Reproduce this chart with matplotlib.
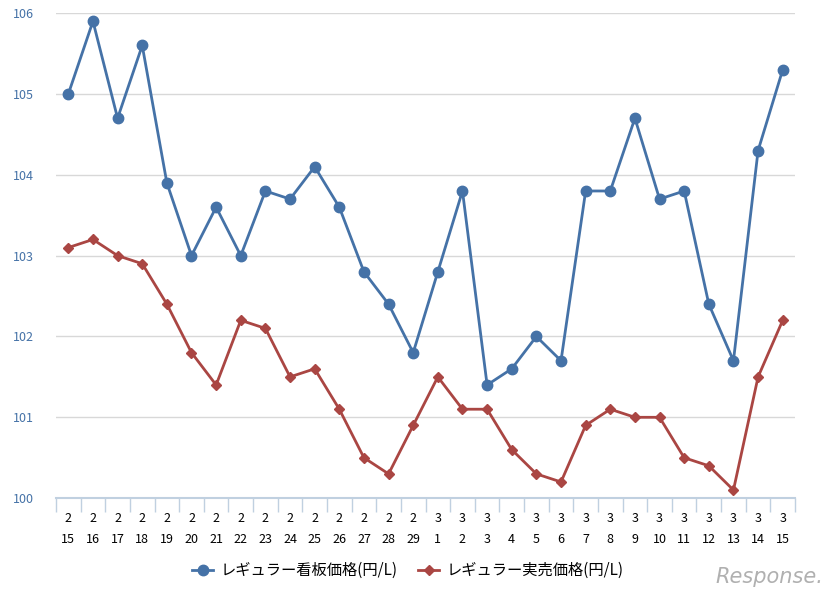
import matplotlib
matplotlib.use("Agg")
import matplotlib.pyplot as plt
from matplotlib.ticker import FixedLocator

plt.rcParams['font.family'] = ['Noto Sans CJK JP', 'DejaVu Sans']

# 日付 (月, 日)
months = [2] * 15 + [3] * 15
days = list(range(15, 30)) + list(range(1, 16))

# レギュラー看板価格(円/L)
signboard = [105.0, 105.9, 104.7, 105.6, 103.9, 103.0, 103.6, 103.0, 103.8, 103.7,
             104.1, 103.6, 102.8, 102.4, 101.8, 102.8, 103.8, 101.4, 101.6, 102.0,
             101.7, 103.8, 103.8, 104.7, 103.7, 103.8, 102.4, 101.7, 104.3, 105.3]
# レギュラー実売価格(円/L)
actual = [103.1, 103.2, 103.0, 102.9, 102.4, 101.8, 101.4, 102.2, 102.1, 101.5,
          101.6, 101.1, 100.5, 100.3, 100.9, 101.5, 101.1, 101.1, 100.6, 100.3,
          100.2, 100.9, 101.1, 101.0, 101.0, 100.5, 100.4, 100.1, 101.5, 102.2]

labels = [f"{m}\n{d}" for m, d in zip(months, days)]
x = list(range(len(labels)))

blue = '#4572a7'
red = '#aa4643'

fig = plt.figure(figsize=(8.36, 5.98), dpi=100)
ax = fig.add_axes([0.067, 0.167, 0.884, 0.811])

ax.plot(x, signboard, color=blue, lw=2, marker='o', ms=7.5, label='レギュラー看板価格(円/L)', zorder=3)
ax.plot(x, actual, color=red, lw=2, marker='D', ms=5, label='レギュラー実売価格(円/L)', zorder=3)

ax.set_xlim(-0.5, len(x) - 0.5)
ax.set_ylim(100, 106)
ax.set_yticks(range(100, 107))
ax.tick_params(axis='y', length=0, labelsize=9, labelcolor=blue, pad=16)
ax.grid(axis='y', color='#d8d8d8', lw=1)
ax.set_axisbelow(True)

ax.set_xticks(x)
ax.set_xticklabels(labels, fontsize=9, linespacing=1.8)
ax.tick_params(axis='x', which='major', length=0, pad=10)
ax.xaxis.set_minor_locator(FixedLocator([i - 0.5 for i in range(len(x) + 1)]))
ax.tick_params(axis='x', which='minor', length=10, width=1, color='#c0d0e0')

for s in ['top', 'right', 'left']:
    ax.spines[s].set_visible(False)
ax.spines['bottom'].set_color('#c0d0e0')
ax.spines['bottom'].set_linewidth(1.5)

fig.legend(loc='center', bbox_to_anchor=(0.488, 0.046), ncol=2, frameon=False,
           fontsize=11, handlelength=1.4, columnspacing=1.3, handletextpad=0.5)

fig.text(0.985, 0.035, 'Response.', ha='right', va='center', fontsize=15,
         color='#b0b0b0', style='italic', family='DejaVu Sans')

fig.savefig('out.png', dpi=100, facecolor='white')
